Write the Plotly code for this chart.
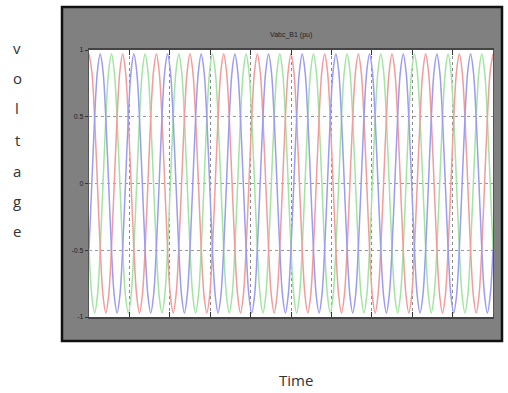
import plotly.graph_objects as go

# ---- data ----
t_start, t_end = 0.0, 0.2          # seconds shown
n_cycles = 12                       # cycles visible over the window
samples_per_cycle = 12
phase_a_cycle = [0.97, 0.84, 0.49, 0.0, -0.49, -0.84, -0.97, -0.84, -0.49, 0.0, 0.49, 0.84]
phase_b_cycle = [-0.49, 0.0, 0.49, 0.84, 0.97, 0.84, 0.49, 0.0, -0.49, -0.84, -0.97, -0.84]
phase_c_cycle = [-0.49, -0.84, -0.97, -0.84, -0.49, 0.0, 0.49, 0.84, 0.97, 0.84, 0.49, 0.0]
y_tick_vals = [-1, -0.5, 0, 0.5, 1]
y_tick_text = ["-1", "-0.5", "0", "0.5", "1"]
side_label_letters = ["v", "o", "l", "t", "a", "g", "e"]
title_text = "Vabc_B1 (pu)"
x_label_text = "Time"

n = n_cycles * samples_per_cycle + 1
dt = (t_end - t_start) / (n - 1)
t = [t_start + i * dt for i in range(n)]
va = [phase_a_cycle[i % samples_per_cycle] for i in range(n)]
vb = [phase_b_cycle[i % samples_per_cycle] for i in range(n)]
vc = [phase_c_cycle[i % samples_per_cycle] for i in range(n)]

W, H = 508, 393
L, R, T, B = 89, 15, 50, 76
pw, ph = W - L - R, H - T - B

def px(xp):
    return (xp - L) / pw

def py(yp):
    return (H - B - yp) / ph

fig = go.Figure()
for vals, col in [(vc, "#a2e4a2"), (va, "#f29c9c"), (vb, "#9c9cf0")]:
    fig.add_trace(go.Scatter(x=t, y=vals, mode="lines", line=dict(color=col, width=1.5, shape="spline"),
                             hoverinfo="skip", showlegend=False))

shapes = [
    dict(type="rect", xref="paper", yref="paper", x0=px(62), x1=px(502), y0=py(341), y1=py(7),
         fillcolor="#808080", line=dict(color="#111", width=2.5), layer="below"),
    dict(type="rect", xref="paper", yref="paper", x0=0, x1=1, y0=0, y1=1,
         fillcolor="white", line=dict(width=0), layer="below"),
]

annotations = []
letter_y = [48, 78, 108, 140, 171, 201, 231]
for ch, yp in zip(side_label_letters, letter_y):
    annotations.append(dict(text=ch, x=px(17), y=py(yp), xref="paper", yref="paper", showarrow=False,
                            xanchor="center", yanchor="middle",
                            font=dict(family="Open Sans", size=15, color="#333")))
annotations.append(dict(text=x_label_text, x=px(296), y=py(380), xref="paper", yref="paper", showarrow=False,
                        xanchor="center", yanchor="middle",
                        font=dict(family="Open Sans", size=15, color="#333")))
annotations.append(dict(text=title_text, x=0.5, y=py(35), xref="paper", yref="paper", showarrow=False,
                        xanchor="center", yanchor="middle",
                        font=dict(family="Liberation Sans Narrow, Arial Narrow, Liberation Sans", size=7, color="#222")))

fig.update_layout(
    width=W, height=H, margin=dict(l=L, r=R, t=T, b=B),
    paper_bgcolor="white", plot_bgcolor="white",
    shapes=shapes, annotations=annotations,
    xaxis=dict(range=[t_start, t_end], dtick=0.02, tick0=0, showticklabels=False,
               showgrid=True, gridcolor="#8a8a8a", griddash="dot", gridwidth=1,
               ticks="inside", ticklen=5, tickcolor="#333", mirror="ticks",
               showline=True, linecolor="#444", linewidth=1.5, zeroline=False),
    yaxis=dict(range=[-1, 1], tickvals=y_tick_vals, ticktext=y_tick_text,
               ticks="outside", ticklen=3, tickcolor="#333",
               tickfont=dict(family="Liberation Sans Narrow, Liberation Sans", size=7, color="#222"),
               showgrid=True, gridcolor="#999", griddash="dot", gridwidth=1,
               showline=True, linecolor="#555", linewidth=1.2, mirror=True, zeroline=False),
)

fig.write_html("out.html", config={"displayModeBar": False},
               post_script="document.body.style.margin='0';document.body.style.overflow='hidden';")
